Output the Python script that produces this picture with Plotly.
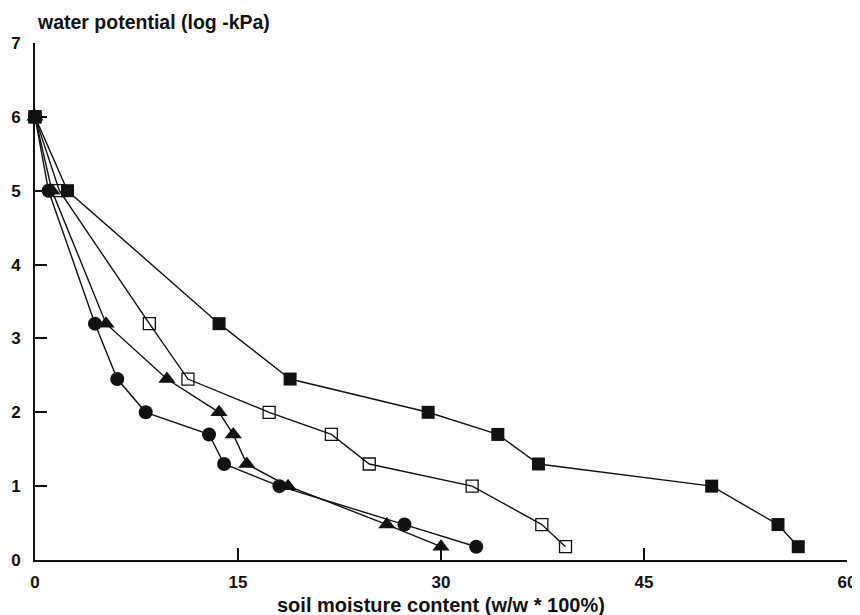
import plotly.graph_objects as go

# y values (log -kPa) shared by all series
potential = [6, 5, 3.2, 2.45, 2.0, 1.7, 1.3, 1.0, 0.48, 0.18]

# soil moisture content (w/w * 100%) per series
moist_filled_sq = [0, 2.4, 13.6, 18.85, 29.05, 34.2, 37.2, 50.0, 54.9, 56.4]
moist_open_sq = [0, 1.8, 8.45, 11.3, 17.3, 21.9, 24.7, 32.3, 37.45, 39.2]
moist_triangle = [0, 1.25, 5.25, 9.75, 13.6, 14.65, 15.65, 18.7, 26.0, 30.0]
moist_circle = [0, 1.0, 4.43, 6.08, 8.18, 12.86, 13.97, 18.06, 27.3, 32.6]

x_ticks = [0, 15, 30, 45, 60]
y_ticks = [0, 1, 2, 3, 4, 5, 6, 7]

INK = "#111111"
FONT = "Liberation Sans, Arial, sans-serif"

series = [
    (moist_filled_sq, dict(symbol="square", size=13, color=INK)),
    (moist_open_sq, dict(symbol="square-open", size=12, color=INK, line=dict(width=1.3, color=INK))),
    (moist_triangle, dict(symbol="triangle-up", size=15, color=INK)),
    (moist_circle, dict(symbol="circle", size=14, color=INK)),
]

fig = go.Figure()
for xs, mk in series:
    fig.add_trace(go.Scatter(
        x=xs, y=potential, mode="lines+markers",
        line=dict(color=INK, width=1.4),
        marker=mk, cliponaxis=False, showlegend=False,
    ))

axis_common = dict(
    showgrid=False, zeroline=False, showline=True, linecolor=INK, linewidth=2,
    ticks="inside", ticklen=12, tickwidth=1.5, tickcolor=INK,
    tickfont=dict(family=FONT, size=17, color=INK, weight="bold"),
    automargin=False,
)

# the page body adds an 8px offset, so the figure is 8px smaller on each side
W, H = 852, 607
ML, MR, MT, MB = 27, 13, 35, 55

fig.update_layout(
    width=W, height=H,
    margin=dict(l=ML, r=MR, t=MT, b=MB, autoexpand=False),
    paper_bgcolor="white", plot_bgcolor="white",
    xaxis=dict(range=[0, 60], tickvals=x_ticks, ticktext=[str(t) for t in x_ticks],
               ticklabelstandoff=6, **axis_common),
    yaxis=dict(range=[0, 7], tickvals=y_ticks, ticktext=[str(t) for t in y_ticks],
               ticklabelstandoff=9, **axis_common),
    annotations=[
        dict(text="water potential (log -kPa)", x=0, y=1, xref="paper", yref="paper",
             xanchor="left", yanchor="middle", showarrow=False, yshift=21,
             font=dict(family=FONT, size=19.5, color=INK, weight="bold")),
        dict(text="soil moisture content (w/w * 100%)", x=0.5, y=0, xref="paper", yref="paper",
             xanchor="center", yanchor="middle", showarrow=False, yshift=-45,
             font=dict(family=FONT, size=20, color=INK, weight="bold")),
    ],
)

fig.write_html("out.html")
